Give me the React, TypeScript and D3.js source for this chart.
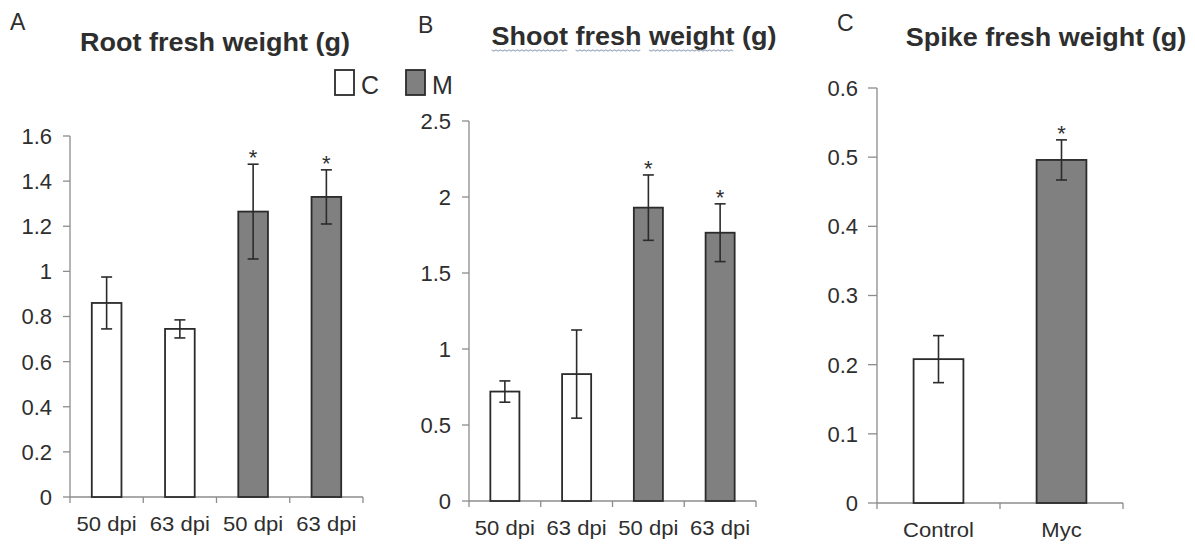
import React, { useRef, useEffect } from "react"
import * as d3 from "d3"

const dpiLabels = ["50 dpi", "63 dpi", "50 dpi", "63 dpi"]
const dpiGroups = ["C", "C", "M", "M"]
const rootMeans = [0.86, 0.745, 1.265, 1.33]
const rootErr = [0.115, 0.04, 0.21, 0.12]
const rootSig = [false, false, true, true]
const rootTicks = [0, 0.2, 0.4, 0.6, 0.8, 1, 1.2, 1.4, 1.6]

const shootMeans = [0.72, 0.835, 1.93, 1.765]
const shootErr = [0.07, 0.29, 0.215, 0.19]
const shootSig = [false, false, true, true]
const shootTicks = [0, 0.5, 1, 1.5, 2, 2.5]

const spikeLabels = ["Control", "Myc"]
const spikeGroups = ["C", "M"]
const spikeMeans = [0.208, 0.496]
const spikeErr = [0.034, 0.029]
const spikeSig = [false, true]
const spikeTicks = [0, 0.1, 0.2, 0.3, 0.4, 0.5, 0.6]

const legendItems = ["C", "M"]

const FONT = "'Liberation Sans', Arial, sans-serif"
const TEXT = "#2e2e2e"
const AXIS = "#8c8c8c"
const FILL: Record<string, string> = { C: "#ffffff", M: "#808080" }

interface Panel {
  letter: string
  letterX: number
  letterY: number
  title: string
  titleX: number
  titleY: number
  squiggle: boolean
  labels: string[]
  groups: string[]
  means: number[]
  errs: number[]
  sig: boolean[]
  ticks: number[]
  x0: number
  x1: number
  yZero: number
  yTop: number
  labelY: number
  tickLen: number
  labelGap: number
}

const panels: Panel[] = [
  {
    letter: "A", letterX: 10, letterY: 30,
    title: "Root fresh weight (g)", titleX: 215, titleY: 51, squiggle: false,
    labels: dpiLabels, groups: dpiGroups, means: rootMeans, errs: rootErr, sig: rootSig, ticks: rootTicks,
    x0: 70, x1: 363, yZero: 497, yTop: 136, labelY: 531, tickLen: 7, labelGap: 11,
  },
  {
    letter: "B", letterX: 418, letterY: 33,
    title: "Shoot fresh weight (g)", titleX: 634, titleY: 45, squiggle: true,
    labels: dpiLabels, groups: dpiGroups, means: shootMeans, errs: shootErr, sig: shootSig, ticks: shootTicks,
    x0: 469, x1: 756, yZero: 501, yTop: 121, labelY: 535, tickLen: 7, labelGap: 11,
  },
  {
    letter: "C", letterX: 837, letterY: 31,
    title: "Spike fresh weight (g)", titleX: 1046, titleY: 46, squiggle: false,
    labels: spikeLabels, groups: spikeGroups, means: spikeMeans, errs: spikeErr, sig: spikeSig, ticks: spikeTicks,
    x0: 877, x1: 1123, yZero: 503, yTop: 88, labelY: 537, tickLen: 9, labelGap: 10,
  },
]

const stretch = (cx: number, s: number) => `translate(${cx},0) scale(${s},1) translate(${-cx},0)`

const App: React.FC = () => {
  const svgRef = useRef<SVGSVGElement>(null)

  useEffect(() => {
    if (!svgRef.current) return
    const svg = d3.select(svgRef.current)
    svg.selectAll("*").remove()

    panels.forEach((p) => {
      const g = svg.append("g")
      const maxTick = p.ticks[p.ticks.length - 1]
      const y = d3.scaleLinear().domain([0, maxTick]).range([p.yZero, p.yTop])
      const x = d3.scaleBand<number>()
        .domain(p.labels.map((_, i) => i))
        .range([p.x0, p.x1])
        .paddingInner(0)
        .paddingOuter(0)
      const bw = x.bandwidth() * 0.405

      // panel letter
      g.append("text")
        .attr("x", p.letterX)
        .attr("y", p.letterY)
        .attr("font-family", FONT)
        .attr("font-size", 23)
        .attr("fill", TEXT)
        .text(p.letter)

      // title
      const title = g.append("text")
        .attr("x", p.titleX)
        .attr("y", p.titleY)
        .attr("text-anchor", "middle")
        .attr("font-family", FONT)
        .attr("font-size", 25)
        .attr("font-weight", "bold")
        .attr("fill", TEXT)
        .attr("transform", stretch(p.titleX, 1.08))
        .text(p.title)

      if (p.squiggle) {
        const node = title.node() as SVGTextElement
        const words = p.title.split(" ")
        let idx = 0
        words.forEach((w, wi) => {
          if (wi < 3) {
            const start = node.getStartPositionOfChar(idx).x
            const end = node.getEndPositionOfChar(idx + w.length - 1).x
            const pts: [number, number][] = []
            for (let xx = start; xx <= end; xx += 2) {
              pts.push([xx, p.titleY + 5 + ((Math.round((xx - start) / 2) % 2) ? 1.2 : -0.2)])
            }
            g.append("path")
              .attr("d", d3.line()(pts))
              .attr("fill", "none")
              .attr("stroke", "#9aa6bd")
              .attr("stroke-width", 1)
              .attr("transform", stretch(p.titleX, 1.08))
          }
          idx += w.length + 1
        })
      }

      // y axis
      g.append("line")
        .attr("x1", p.x0).attr("x2", p.x0)
        .attr("y1", y(maxTick)).attr("y2", p.yZero)
        .attr("stroke", AXIS).attr("stroke-width", 1.3)
      p.ticks.forEach((t) => {
        g.append("line")
          .attr("x1", p.x0 - p.tickLen).attr("x2", p.x0)
          .attr("y1", y(t)).attr("y2", y(t))
          .attr("stroke", AXIS).attr("stroke-width", 1.3)
        g.append("text")
          .attr("x", p.x0 - p.tickLen - p.labelGap)
          .attr("y", y(t))
          .attr("dy", "0.36em")
          .attr("text-anchor", "end")
          .attr("font-family", FONT)
          .attr("font-size", 22)
          .attr("fill", TEXT)
          .text(d3.format("~g")(t))
      })

      // x axis
      g.append("line")
        .attr("x1", p.x0).attr("x2", p.x1)
        .attr("y1", p.yZero).attr("y2", p.yZero)
        .attr("stroke", AXIS).attr("stroke-width", 1.3)
      const bounds = p.labels.map((_, i) => x(i) as number).concat([p.x1])
      bounds.forEach((b) => {
        g.append("line")
          .attr("x1", b).attr("x2", b)
          .attr("y1", p.yZero).attr("y2", p.yZero + 6)
          .attr("stroke", AXIS).attr("stroke-width", 1.3)
      })

      p.labels.forEach((lab, i) => {
        const cx = (x(i) as number) + x.bandwidth() / 2
        g.append("text")
          .attr("x", cx)
          .attr("y", p.labelY)
          .attr("text-anchor", "middle")
          .attr("font-family", FONT)
          .attr("font-size", 21)
          .attr("fill", TEXT)
          .attr("transform", stretch(cx, 1.05))
          .text(lab)
      })

      // bars
      p.means.forEach((m, i) => {
        const cx = (x(i) as number) + x.bandwidth() / 2
        g.append("rect")
          .attr("x", cx - bw / 2)
          .attr("y", y(m))
          .attr("width", bw)
          .attr("height", p.yZero - y(m))
          .attr("fill", FILL[p.groups[i]])
          .attr("stroke", "#2b2b2b")
          .attr("stroke-width", 1.8)

        const top = y(m + p.errs[i])
        const bot = y(m - p.errs[i])
        g.append("line")
          .attr("x1", cx).attr("x2", cx).attr("y1", top).attr("y2", bot)
          .attr("stroke", "#2b2b2b").attr("stroke-width", 1.6)
        ;[top, bot].forEach((yy) => {
          g.append("line")
            .attr("x1", cx - 5.5).attr("x2", cx + 5.5).attr("y1", yy).attr("y2", yy)
            .attr("stroke", "#2b2b2b").attr("stroke-width", 1.6)
        })
        if (p.sig[i]) {
          g.append("text")
            .attr("x", cx)
            .attr("y", top + 1)
            .attr("text-anchor", "middle")
            .attr("font-family", FONT)
            .attr("font-size", 22)
            .attr("fill", TEXT)
            .text("*")
        }
      })
    })

    // legend
    const legendX = [335, 406]
    legendItems.forEach((k, i) => {
      svg.append("rect")
        .attr("x", legendX[i])
        .attr("y", 70)
        .attr("width", 19)
        .attr("height", 25)
        .attr("fill", FILL[k])
        .attr("stroke", "#2b2b2b")
        .attr("stroke-width", 1.8)
      svg.append("text")
        .attr("x", legendX[i] + 26)
        .attr("y", 94)
        .attr("font-family", FONT)
        .attr("font-size", 25)
        .attr("fill", TEXT)
        .text(k)
    })
  }, [])

  return (
    <svg
      ref={svgRef}
      width={1195}
      height={544}
      style={{ position: "absolute", left: 0, top: 0, background: "#fff" }}
    />
  )
}

export default App
